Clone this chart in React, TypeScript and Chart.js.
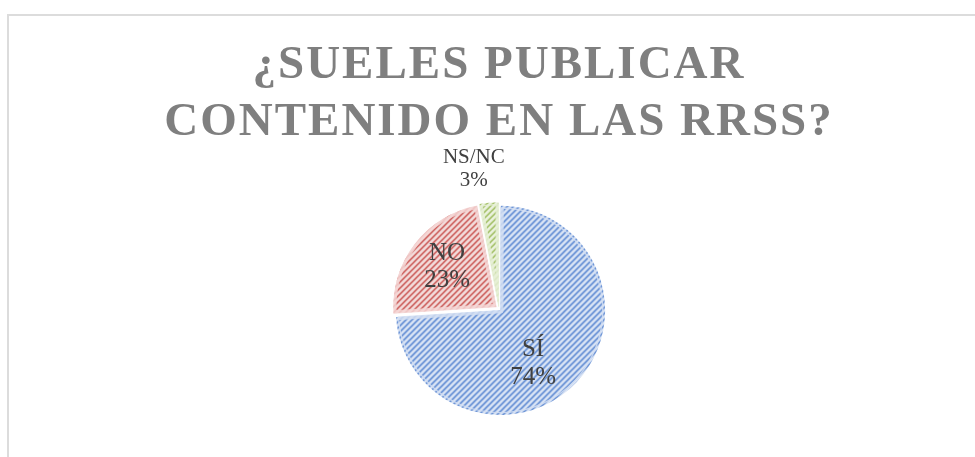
import React, { useEffect, useRef } from "react";
import { Chart, registerables } from "chart.js";

Chart.register(...registerables);

// ---- data ----
const categories = ["SÍ", "NO", "NS/NC"];
const values = [74, 23, 3];
const titleLines = ["¿SUELES PUBLICAR", "CONTENIDO EN LAS RRSS?"];

// ---- styles ----
const patternBg = ["#dbe5f5", "#f3dcdb", "#ebf2de"];
const patternFg = ["#4f7fcf", "#c9524f", "#9bbb59"];
const edgeColors = ["rgba(210,222,242,0.85)", "rgba(244,214,213,0.85)", "rgba(230,240,214,0.85)"];
const sliceOffsets = [8, 14, 9];
const labelFactor = [0.6, 0.65, 1.36];
const labelNudgeX = [-11, 1, -12];
const labelNudgeY = [12.5, -1, -1];
const labelSize = [25, 25, 21];
const labelLineHeight = [28, 27, 23];

function makePattern(bg: string, fg: string): CanvasPattern | string {
  const s = 6;
  const c = document.createElement("canvas");
  c.width = s;
  c.height = s;
  const x = c.getContext("2d");
  if (!x) return bg;
  x.fillStyle = bg;
  x.fillRect(0, 0, s, s);
  x.strokeStyle = fg;
  x.lineWidth = 1.5;
  x.beginPath();
  x.moveTo(0, s);
  x.lineTo(s, 0);
  x.moveTo(-1, 1);
  x.lineTo(1, -1);
  x.moveTo(s - 1, s + 1);
  x.lineTo(s + 1, s - 1);
  x.stroke();
  const p = x.createPattern(c, "repeat");
  return p || bg;
}

const spacingPlugin = {
  id: "titleSpacing",
  beforeDraw(chart: any) {
    (chart.ctx as any).letterSpacing = "2px";
  },
  beforeDatasetsDraw(chart: any) {
    (chart.ctx as any).letterSpacing = "0px";
  },
};

const labelPlugin = {
  id: "sliceLabels",
  afterDatasetsDraw(chart: any) {
    const ctx = chart.ctx;
    const meta = chart.getDatasetMeta(0);
    const total = values.reduce((a, b) => a + b, 0);
    ctx.save();
    (ctx as any).letterSpacing = "0px";
    ctx.fillStyle = "#404040";
    ctx.textAlign = "center";
    ctx.textBaseline = "middle";
    meta.data.forEach((arc: any, i: number) => {
      const p = arc.getProps(["x", "y", "startAngle", "endAngle", "outerRadius"], true);
      const mid = (p.startAngle + p.endAngle) / 2;
      const d = p.outerRadius * labelFactor[i];
      const cx = p.x + Math.cos(mid) * d + labelNudgeX[i];
      const cy = p.y + Math.sin(mid) * d + labelNudgeY[i];
      ctx.font = `${labelSize[i]}px "Liberation Serif"`;
      const lh = labelLineHeight[i];
      ctx.fillText(categories[i], cx, cy - lh / 2);
      ctx.fillText(Math.round((values[i] / total) * 100) + "%", cx, cy + lh / 2);
    });
    ctx.restore();
  },
};

export default function App() {
  const ref = useRef<HTMLCanvasElement | null>(null);

  useEffect(() => {
    const canvas = ref.current;
    if (!canvas) return;
    const ctx = canvas.getContext("2d");
    if (!ctx) return;
    const fills = values.map((_, i) => makePattern(patternBg[i], patternFg[i]));
    const chart = new Chart(canvas, {
      type: "pie",
      data: {
        labels: categories,
        datasets: [
          {
            data: values,
            backgroundColor: fills as any,
            borderColor: edgeColors,
            borderWidth: 3,
            borderAlign: "inner",
            offset: sliceOffsets,
            radius: 103,
          } as any,
        ],
      },
      options: {
        responsive: false,
        animation: false,
        devicePixelRatio: 1,
        layout: { padding: { top: 0, bottom: 17, left: 0, right: 0 } },
        plugins: {
          legend: { display: false },
          tooltip: { enabled: false },
          title: {
            display: true,
            text: titleLines,
            color: "#7f7f7f",
            font: { family: '"Liberation Serif"', size: 47, weight: "bold", lineHeight: 57 / 47 },
            padding: { top: 23, bottom: 0 },
          },
        },
      } as any,
      plugins: [spacingPlugin, labelPlugin],
    });
    return () => chart.destroy();
  }, []);

  return (
    <div
      style={{
        position: "fixed",
        left: 0,
        top: 0,
        width: 975,
        height: 457,
        overflow: "hidden",
        background: "#ffffff",
      }}
    >
      <div
        style={{
          position: "absolute",
          left: 7,
          top: 14,
          width: 984,
          height: 470,
          border: "2px solid #dcdcdc",
          boxSizing: "border-box",
        }}
      />
      <canvas
        ref={ref}
        width={984}
        height={470}
        style={{ position: "absolute", left: 7, top: 14, width: 984, height: 470 }}
      />
    </div>
  );
}
